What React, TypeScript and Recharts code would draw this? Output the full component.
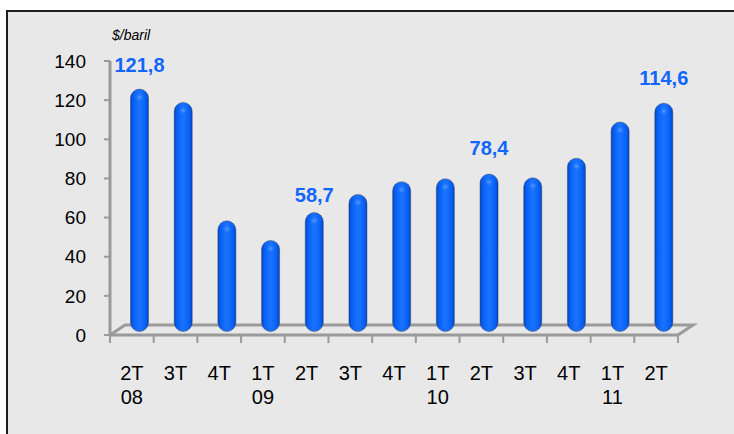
import React from "react";
import * as R from "recharts";
import { Bar, BarChart, LabelList, XAxis, YAxis } from "recharts";

const QUARTERS = ["2T", "3T", "4T", "1T", "2T", "3T", "4T", "1T", "2T", "3T", "4T", "1T", "2T"];
const YEARS = ["08", "", "", "09", "", "", "", "10", "", "", "", "11", ""];
const PRICES = [121.8, 115, 54.5, 44.5, 58.7, 68, 74.5, 76, 78.4, 76.5, 86.5, 105, 114.6];
const LABELLED = [0, 4, 8, 12];
const Y_TICKS = [0, 20, 40, 60, 80, 100, 120, 140];
const UNIT = "$/baril";

const data = QUARTERS.map((q, i) => ({ q, year: YEARS[i], price: PRICES[i] }));

// depth of the fake 3D floor
const DX = 15;
const DY = -10;
const FONT = "'Liberation Sans', Arial, sans-serif";
const AXIS_GREY = "#9a9a9a";
const BLUE = "#1166ff";

// label gap above each bar top, by index (original labels were placed by hand)
const LABEL_GAP: Record<number, number> = { 0: 17, 4: 11, 8: 19, 12: 18 };

const usePlot: () => any = (R as any).usePlotArea ?? (R as any).useOffset ?? (() => null);

function Floor() {
  const p = usePlot();
  if (!p) return null;
  let x: number, y: number, w: number, h: number;
  if (p.width !== undefined && p.x !== undefined) {
    ({ x, y, width: w, height: h } = p);
  } else {
    x = p.left;
    y = p.top;
    w = 734 - p.left - p.right;
    h = 434 - p.top - p.bottom;
  }
  const b = y + h;
  const step = w / QUARTERS.length;
  return (
    <g>
      <polyline
        points={`${x},${b} ${x + DX},${b + DY} ${x + w + DX},${b + DY} ${x + w},${b}`}
        fill="none"
        stroke={AXIS_GREY}
        strokeWidth={3}
      />
      <line x1={x} y1={b} x2={x + w} y2={b} stroke={AXIS_GREY} strokeWidth={3} />
      {Array.from({ length: QUARTERS.length + 1 }, (_, i) => (
        <line key={i} x1={x + i * step} y1={b} x2={x + i * step} y2={b + 8} stroke={AXIS_GREY} strokeWidth={2} />
      ))}
      <text x={x + 2} y={y - 21} fontFamily={FONT} fontSize={14} fontStyle="italic" fill="#000">
        {UNIT}
      </text>
    </g>
  );
}

function Cylinder(props: any) {
  const { x, y, width, height } = props;
  if (width == null || height == null) return null;
  const left = x + DX / 2;
  const top = y + DY * 0.75;
  const bottom = y + height + DY * 0.75 + 4;
  const r = width / 2;
  return (
    <g>
      <rect
        x={left}
        y={top}
        width={width}
        height={Math.max(bottom - top, width)}
        rx={r}
        ry={r}
        fill="url(#cyl)"
        stroke="#3a4a6a"
        strokeOpacity={0.5}
        strokeWidth={1}
      />
      <ellipse cx={left + r} cy={top + r * 0.9} rx={r * 0.55} ry={r * 0.5} fill="url(#cap)" />
    </g>
  );
}

function PriceLabel(props: any) {
  const { x, y, width, value, index } = props;
  if (!LABELLED.includes(index)) return null;
  return (
    <text
      x={x + width / 2 + DX / 2}
      y={y + DY * 0.75 - LABEL_GAP[index]}
      textAnchor="middle"
      fontFamily={FONT}
      fontSize={20}
      fontWeight="bold"
      fill={BLUE}
    >
      {Number(value).toFixed(1).replace(".", ",")}
    </text>
  );
}

function QuarterTick(props: any) {
  const { x, y, payload, index } = props;
  return (
    <text x={x} y={y} textAnchor="middle" fontFamily={FONT} fontSize={20} fill="#000">
      <tspan x={x} dy={45}>
        {payload.value}
      </tspan>
      {YEARS[index] ? (
        <tspan x={x} dy={24}>
          {YEARS[index]}
        </tspan>
      ) : null}
    </text>
  );
}

export default function App() {
  return (
    <div style={{ position: "fixed", left: 0, top: 0, width: 734, height: 434, background: "#fff", overflow: "hidden" }}>
      <div
        style={{
          position: "absolute",
          left: 6,
          top: 10,
          width: 740,
          height: 440,
          background: "#e8e8e8",
          borderTop: "2px solid #1e1e1e",
          borderLeft: "2px solid #1e1e1e",
        }}
      />
      <div style={{ position: "absolute", left: 0, top: 0 }}>
        <BarChart
          width={734}
          height={434}
          data={data}
          margin={{ top: 61, right: 56, bottom: 39, left: 30 }}
          barSize={18}
        >
          <defs>
            <linearGradient id="cyl" x1="0" y1="0" x2="1" y2="0">
              <stop offset="0%" stopColor="#0042c0" />
              <stop offset="15%" stopColor="#0760f5" />
              <stop offset="50%" stopColor="#1b74ff" />
              <stop offset="85%" stopColor="#0760f5" />
              <stop offset="100%" stopColor="#0042c0" />
            </linearGradient>
            <radialGradient id="cap">
              <stop offset="0%" stopColor="#6aa6ff" stopOpacity={0.8} />
              <stop offset="100%" stopColor="#1a73ff" stopOpacity={0} />
            </radialGradient>
          </defs>
          <Floor />
          <XAxis
            dataKey="q"
            axisLine={false}
            tickLine={false}
            tickSize={0}
            tickMargin={0}
            height={60}
            interval={0}
            tick={<QuarterTick />}
          />
          <YAxis
            domain={[0, 140]}
            ticks={Y_TICKS}
            width={80}
            axisLine={{ stroke: AXIS_GREY, strokeWidth: 3 }}
            tickLine={{ stroke: AXIS_GREY, strokeWidth: 2 }}
            tickSize={6}
            tickMargin={18}
            tick={{ fill: "#000", fontSize: 19, fontFamily: FONT }}
          />
          <Bar dataKey="price" shape={<Cylinder />} isAnimationActive={false}>
            <LabelList dataKey="price" content={<PriceLabel />} />
          </Bar>
        </BarChart>
      </div>
    </div>
  );
}
